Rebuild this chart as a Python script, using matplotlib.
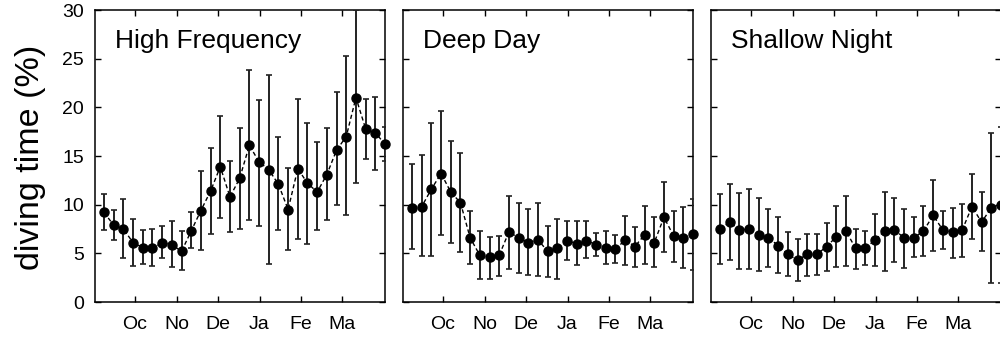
import numpy as np
import matplotlib.pyplot as plt

plt.rcParams['font.family'] = ['Liberation Sans', 'DejaVu Sans']

# weekly samples, month ticks
weeks = np.arange(30)
month_pos = [3.2, 7.5, 11.8, 16.05, 20.3, 24.6]
month_labels = ["Oc", "No", "De", "Ja", "Fe", "Ma"]

panel_titles = ["High Frequency", "Deep Day", "Shallow Night"]

hf_mean = [9.2, 7.9, 7.5, 6.1, 5.6, 5.5, 6.1, 5.9, 5.2, 7.3, 9.4, 11.4, 13.9, 10.8, 12.7,
           16.1, 14.4, 13.6, 12.1, 9.5, 13.7, 12.2, 11.3, 13.1, 15.6, 17.0, 21.0, 17.8, 17.4, 16.2]
hf_low = [7.4, 6.4, 4.5, 3.7, 3.9, 3.7, 4.5, 3.6, 3.3, 5.5, 5.3, 7.0, 8.6, 7.2, 7.5,
          8.4, 7.8, 3.9, 7.4, 5.3, 6.5, 6.0, 7.4, 8.4, 10.0, 8.9, 12.2, 14.7, 13.6, 14.5]
hf_high = [11.1, 9.5, 10.6, 8.5, 7.4, 7.5, 7.8, 8.3, 7.3, 9.2, 13.5, 15.8, 19.1, 14.5, 17.9,
           23.8, 20.8, 23.3, 17.0, 13.8, 20.9, 18.4, 16.4, 17.9, 21.6, 25.3, 30.0, 20.9, 21.1, 18.0]

dd_mean = [9.7, 9.8, 11.6, 13.2, 11.3, 10.2, 6.6, 4.8, 4.6, 4.8, 7.2, 6.6, 6.1, 6.4, 5.2,
           5.5, 6.3, 6.0, 6.3, 5.9, 5.6, 5.4, 6.4, 5.7, 6.9, 6.1, 8.7, 6.8, 6.6, 7.0]
dd_low = [5.4, 4.7, 4.7, 6.9, 6.1, 5.1, 3.9, 2.4, 2.4, 2.7, 3.4, 3.0, 2.8, 2.7, 2.6,
          2.4, 4.3, 3.8, 4.5, 4.7, 3.9, 4.0, 3.8, 3.6, 3.9, 3.6, 5.1, 4.1, 3.5, 3.3]
dd_high = [14.2, 15.1, 18.4, 19.6, 16.5, 15.3, 9.4, 7.3, 6.7, 6.8, 10.9, 10.2, 9.6, 10.2, 7.8,
           8.5, 8.3, 8.3, 8.3, 7.1, 7.3, 6.9, 8.8, 7.7, 9.9, 8.7, 12.3, 9.4, 9.8, 10.6]

sn_mean = [7.5, 8.2, 7.4, 7.5, 6.9, 6.6, 5.8, 4.9, 4.3, 4.9, 4.9, 5.7, 6.7, 7.3, 5.5,
           5.5, 6.4, 7.3, 7.4, 6.6, 6.6, 7.3, 8.9, 7.4, 7.2, 7.4, 9.8, 8.2, 9.7, 10.0]
sn_low = [3.9, 4.3, 3.4, 3.4, 3.2, 3.6, 3.0, 2.7, 2.2, 2.7, 2.8, 3.2, 3.6, 3.7, 3.4,
          3.8, 3.7, 3.2, 4.1, 3.5, 4.6, 4.7, 5.2, 5.4, 4.5, 4.6, 6.5, 5.2, 2.0, 2.0]
sn_high = [11.1, 12.1, 11.2, 11.6, 10.7, 9.6, 8.7, 7.2, 6.5, 7.0, 7.0, 8.1, 9.9, 10.9, 7.5,
           7.3, 9.0, 11.3, 10.7, 9.6, 8.7, 9.9, 12.5, 9.3, 9.7, 10.1, 13.2, 11.3, 17.4, 18.0]

means = [hf_mean, dd_mean, sn_mean]
lows = [hf_low, dd_low, sn_low]
highs = [hf_high, dd_high, sn_high]

fig = plt.figure(figsize=(10, 3.43), dpi=100)
lefts = [0.095, 0.403, 0.711]

for k in range(3):
    ax = fig.add_axes([lefts[k], 0.1195, 0.290, 0.8513])
    m = np.array(means[k])
    lo = np.array(lows[k])
    hi = np.array(highs[k])
    ax.plot(weeks, m, color="black", lw=1.0, linestyle=(0, (3, 2)), zorder=2)
    ax.errorbar(weeks, m, yerr=[m - lo, hi - m], fmt="none", ecolor="#222222",
                elinewidth=1.4, capsize=2.2, capthick=1.2, zorder=3)
    ax.plot(weeks, m, "o", color="black", markersize=6.5, zorder=4, clip_on=False)

    ax.set_xlim(-0.93, 29)
    ax.set_ylim(0, 30)
    ax.set_yticks([0, 5, 10, 15, 20, 25, 30])
    ax.set_xticks(month_pos)
    ax.set_xticklabels(month_labels)
    ax.tick_params(direction="in", top=True, right=True, length=4, width=1,
                   labelsize=14)
    ax.tick_params(axis="x", pad=10)
    ax.tick_params(axis="y", pad=8)
    if k > 0:
        ax.set_yticklabels([])
    for s in ax.spines.values():
        s.set_linewidth(1.1)
    ax.text(0.069, 0.869, panel_titles[k], transform=ax.transAxes, fontsize=19)

fig.text(0.031, 0.54, "diving time (%)", rotation=90, fontsize=24.5, va="center", ha="center")

fig.savefig("out.png", dpi=100)
